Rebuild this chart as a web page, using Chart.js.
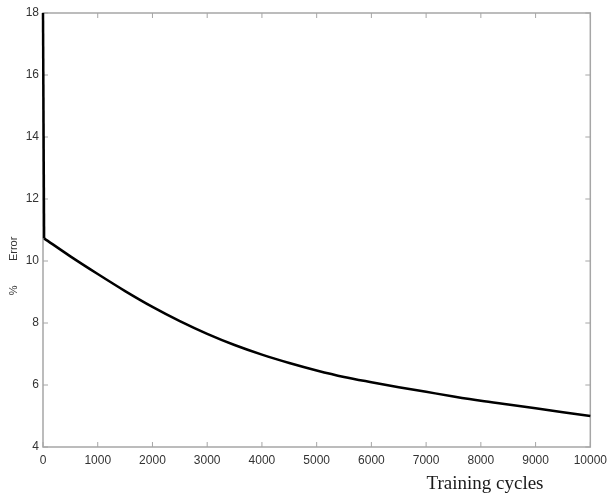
<!DOCTYPE html>
<html>
<head>
<meta charset="utf-8">
<script src="https://cdn.jsdelivr.net/npm/chart.js@4.4.0/dist/chart.umd.min.js"></script>
<style>
    html, body { margin: 0; padding: 0; background: #fff; }
    #wrap { width: 613px; height: 497px; }
</style>
</head>
<body>
<div id="wrap"><canvas id="errorChart"></canvas></div>
<script>
    // values
    const cycles = [0, 20, 500, 1000, 1500, 2000, 2500, 3000, 3500, 4000, 4500, 5000,
                    5500, 6000, 6500, 7000, 7500, 8000, 8500, 9000, 9500, 10000];
    const errorPct = [18, 10.73, 10.15, 9.58, 9.03, 8.52, 8.06, 7.65, 7.29, 6.98, 6.71, 6.47,
                      6.26, 6.09, 5.93, 5.78, 5.63, 5.49, 5.37, 5.25, 5.12, 5.0];
    const yTicks = [4, 6, 8, 10, 12, 14, 16, 18];
    const xTicks = [0, 1000, 2000, 3000, 4000, 5000, 6000, 7000, 8000, 9000, 10000];

    const boxColor = "#a6a6a6";
    const labelColor = "#333";

    const points = cycles.map(function (c, i) { return { x: c, y: errorPct[i] }; });

    // matlab style box with ticks pointing inwards
    const matlabBox = {
        id: "matlabBox",
        beforeDatasetsDraw(chart) {
            const ctx = chart.ctx;
            const a = chart.chartArea;
            const xs = chart.scales.x, ys = chart.scales.y;
            ctx.save();
            ctx.strokeStyle = boxColor;
            ctx.lineWidth = 1.5;
            ctx.strokeRect(a.left, a.top, a.right - a.left, a.bottom - a.top);
            ctx.lineWidth = 1;
            ctx.beginPath();
            xTicks.forEach(function (v) {
                const px = xs.getPixelForValue(v);
                ctx.moveTo(px, a.bottom); ctx.lineTo(px, a.bottom - 5);
                ctx.moveTo(px, a.top); ctx.lineTo(px, a.top + 5);
            });
            yTicks.forEach(function (v) {
                const py = ys.getPixelForValue(v);
                ctx.moveTo(a.left, py); ctx.lineTo(a.left + 5, py);
                ctx.moveTo(a.right, py); ctx.lineTo(a.right - 5, py);
            });
            ctx.stroke();
            ctx.restore();
        },
        afterDraw(chart) {
            const ctx = chart.ctx;
            ctx.save();
            ctx.fillStyle = "#1a1a1a";
            ctx.font = "19px 'Liberation Serif'";
            ctx.textAlign = "center";
            ctx.textBaseline = "middle";
            ctx.fillText("Training cycles", 485, 484);

            ctx.fillStyle = labelColor;
            ctx.font = "11px 'Liberation Sans'";
            ctx.translate(14, 266);
            ctx.rotate(-Math.PI / 2);
            ctx.fillText("%        Error", 0, 0);
            ctx.restore();
        }
    };

    new Chart(document.getElementById("errorChart"), {
        type: "line",
        data: {
            datasets: [
                {
                    // the sharp drop in the first cycles
                    data: points.slice(0, 2),
                    borderColor: "#000",
                    borderWidth: 2.5,
                    pointRadius: 0,
                    tension: 0,
                    clip: 4
                },
                {
                    // slow decay afterwards
                    data: points.slice(1),
                    borderColor: "#000",
                    borderWidth: 2.5,
                    pointRadius: 0,
                    cubicInterpolationMode: "monotone",
                    clip: 4
                }
            ]
        },
        options: {
            responsive: true,
            maintainAspectRatio: false,
            animation: false,
            layout: { padding: { left: 0, right: 18, top: 13, bottom: 0 } },
            plugins: {
                legend: { display: false },
                tooltip: { enabled: false }
            },
            scales: {
                x: {
                    type: "linear",
                    min: 0,
                    max: 10000,
                    afterBuildTicks: function (scale) {
                        scale.ticks = xTicks.map(function (v) { return { value: v }; });
                    },
                    afterFit: function (scale) { scale.height = 50; },
                    grid: { display: false, drawTicks: false },
                    border: { display: false },
                    ticks: {
                        padding: 6,
                        maxRotation: 0,
                        autoSkip: false,
                        color: labelColor,
                        font: { family: "Liberation Sans", size: 12 },
                        callback: function (v) { return String(v); }
                    }
                },
                y: {
                    min: 4,
                    max: 18,
                    afterBuildTicks: function (scale) {
                        scale.ticks = yTicks.map(function (v) { return { value: v }; });
                    },
                    afterFit: function (scale) { scale.width = 43; },
                    grid: { display: false, drawTicks: false },
                    border: { display: false },
                    ticks: {
                        padding: 4,
                        color: labelColor,
                        font: { family: "Liberation Sans", size: 12 },
                        callback: function (v) { return String(v); }
                    }
                }
            }
        },
        plugins: [matlabBox]
    });
</script>
</body>
</html>
